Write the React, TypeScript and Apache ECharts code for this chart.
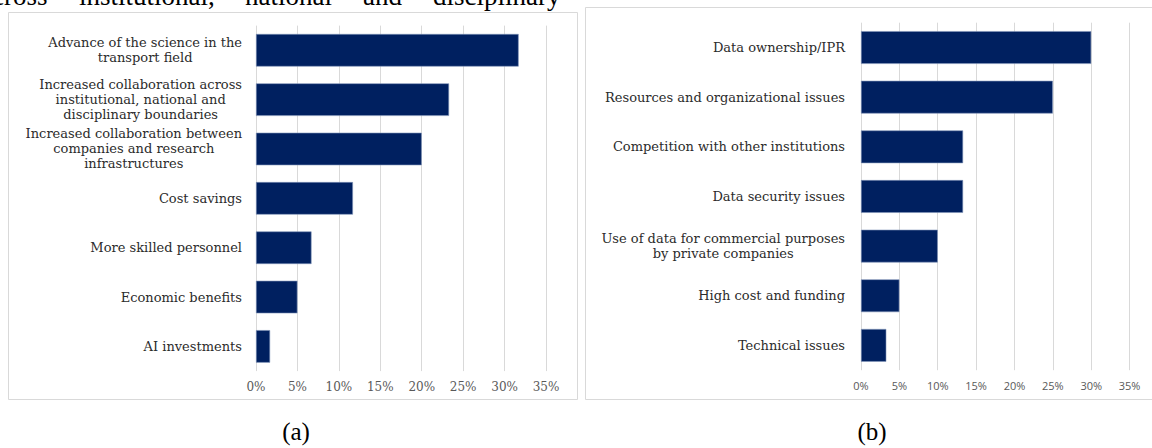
import React, { useEffect, useRef } from "react";
import * as echarts from "echarts";

const leftCategories = [
  "Advance of the science in the\ntransport field",
  "Increased collaboration across\ninstitutional, national and\ndisciplinary boundaries",
  "Increased collaboration between\ncompanies and research\ninfrastructures",
  "Cost savings",
  "More skilled personnel",
  "Economic benefits",
  "AI investments",
];
const leftValues = [31.7, 23.3, 20.0, 11.7, 6.7, 5.0, 1.7];

const rightCategories = [
  "Data ownership/IPR",
  "Resources and organizational issues",
  "Competition with other institutions",
  "Data security issues",
  "Use of data for commercial purposes\nby private companies",
  "High cost and funding",
  "Technical issues",
];
const rightValues = [30.0, 25.0, 13.3, 13.3, 10.0, 5.0, 3.3];

const axisMax = 35;
const axisStep = 5;
const captions = ["(a)", "(b)"];
const topWords = ["cross", "institutional,", "national", "and", "disciplinary"];

const BAR = "#002060";
const GRID = "#d9d9d9";
const SERIF = '"DejaVu Serif", serif';

function richLabel(v: string) {
  return v
    .split("\n")
    .map((l) => "{c|" + l + "}")
    .join("\n");
}

export default function App() {
  const ref = useRef<HTMLDivElement>(null);
  useEffect(() => {
    if (!ref.current) return;
    const chart = echarts.init(ref.current, undefined, { renderer: "svg" });
    const catAxis = (gridIndex: number, data: string[], margin: number) => ({
      type: "category",
      gridIndex,
      data,
      inverse: true,
      axisLine: { show: false },
      axisTick: { show: false },
      axisLabel: {
        margin,
        align: "right",
        formatter: richLabel,
        rich: {
          c: {
            align: "center",
            fontFamily: SERIF,
            fontSize: 13,
            lineHeight: 15,
            color: "#2b2b2b",
          },
        },
      },
    });
    const valAxis = (gridIndex: number, font: string, size: number) => ({
      type: "value",
      gridIndex,
      min: 0,
      max: axisMax,
      interval: axisStep,
      axisLine: { show: false },
      axisTick: { show: false },
      splitLine: { show: true, lineStyle: { color: GRID, width: 1 } },
      axisLabel: {
        margin: 10,
        fontFamily: font,
        fontSize: size,
        color: "#595959",
        formatter: (v: number) => v + "%",
      },
    });
    const wordX = [-8, 79, 245, 363, 433];
    chart.setOption({
      animation: false,
      grid: [
        { left: 256, top: 25.6, width: 290, height: 345.5 },
        { left: 861, top: 22.7, width: 268.6, height: 347.5 },
      ],
      xAxis: [valAxis(0, SERIF, 12), valAxis(1, '"Open Sans", sans-serif', 11)],
      yAxis: [catAxis(0, leftCategories, 14), catAxis(1, rightCategories, 16)],
      series: [
        {
          type: "bar",
          xAxisIndex: 0,
          yAxisIndex: 0,
          data: leftValues,
          barCategoryGap: "34%",
          itemStyle: { color: BAR, borderColor: "#8093b8", borderWidth: 0.6 },
        },
        {
          type: "bar",
          xAxisIndex: 1,
          yAxisIndex: 1,
          data: rightValues,
          barCategoryGap: "34%",
          itemStyle: { color: BAR, borderColor: "#8093b8", borderWidth: 0.6 },
        },
      ],
      graphic: [
        {
          type: "rect",
          shape: { x: 8.5, y: 12.5, width: 569, height: 387 },
          style: { fill: "none", stroke: GRID, lineWidth: 1 },
          silent: true,
        },
        {
          type: "rect",
          shape: { x: 585.5, y: 7.5, width: 620, height: 392 },
          style: { fill: "none", stroke: GRID, lineWidth: 1 },
          silent: true,
        },
        ...captions.map((t, i) => ({
          type: "text",
          x: i === 0 ? 296 : 872,
          y: 431,
          style: {
            text: t,
            font: '25px "Liberation Serif", serif',
            fill: "#000",
            align: "center",
            verticalAlign: "middle",
          },
        })),
        ...topWords.map((w, i) => ({
          type: "text",
          x: wordX[i],
          y: -4,
          style: {
            text: w,
            font: '27px "Liberation Serif", serif',
            fill: "#000",
            align: "left",
            verticalAlign: "middle",
          },
        })),
      ],
    });
    return () => chart.dispose();
  }, []);
  return (
    <div
      ref={ref}
      style={{ position: "absolute", left: 0, top: 0, width: 1152, height: 448 }}
    />
  );
}
